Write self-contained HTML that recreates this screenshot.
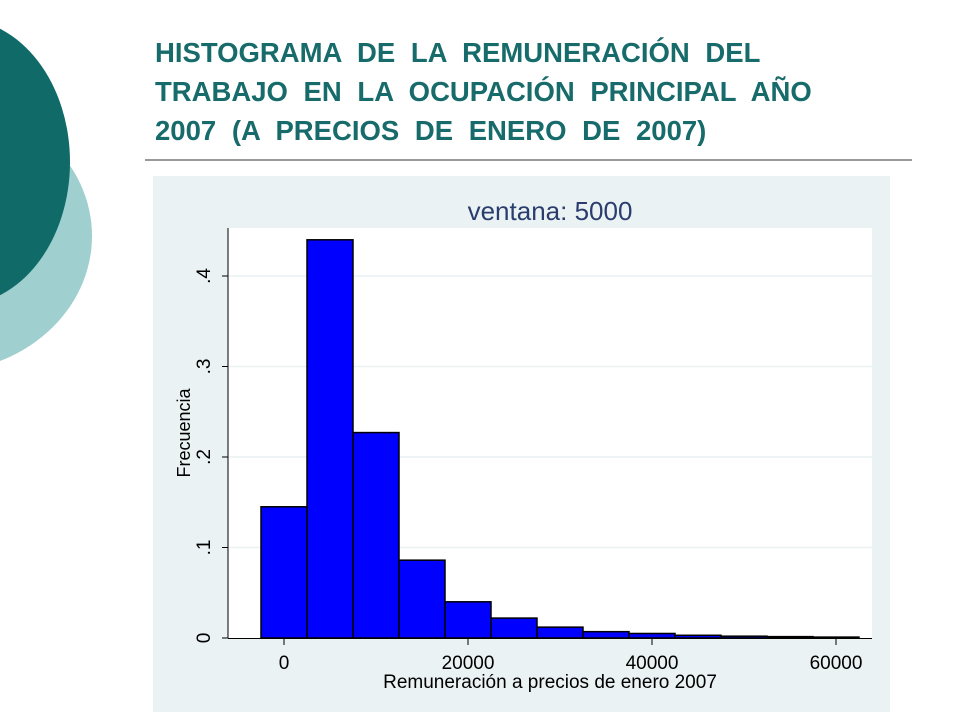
<!DOCTYPE html>
<html><head><meta charset="utf-8"><style>
body{margin:0;width:960px;height:720px;background:#fff;overflow:hidden;position:relative;font-family:"Liberation Sans",sans-serif}
#title{position:absolute;left:155px;top:33px;font-weight:bold;font-size:27.5px;line-height:39px;color:#176b6a;word-spacing:8px;margin:0;white-space:nowrap}
</style></head><body>
<svg width="960" height="720" style="position:absolute;left:0;top:0">
<ellipse cx="-60" cy="236" rx="152" ry="136" fill="#9fcfcf"/>
<ellipse cx="-40" cy="162" rx="110" ry="143" fill="#0f6a68"/>
<line x1="145" y1="160" x2="912" y2="160" stroke="#333" stroke-width="1"/>
</svg>
<h1 id="title">HISTOGRAMA DE LA REMUNERACIÓN DEL<br>TRABAJO EN LA OCUPACIÓN PRINCIPAL AÑO<br>2007 (A PRECIOS DE ENERO DE 2007)</h1>
<svg id="chart" width="960" height="720" style="position:absolute;left:0;top:0"></svg>
<script>
const binStarts=[-2500,2500,7500,12500,17500,22500,27500,32500,37500,42500,47500,52500,57500];
const frequencies=[0.145,0.440,0.227,0.086,0.040,0.022,0.012,0.007,0.005,0.003,0.002,0.0015,0.001];
const binWidth=5000;
const xTicks=[0,20000,40000,60000];
const yTicks=[0,0.1,0.2,0.3,0.4];
const yTickLabels=["0",".1",".2",".3",".4"];
const NS="http://www.w3.org/2000/svg";
const svg=document.getElementById('chart');
const X=v=>284+(v/20000)*184;
const Y=v=>638-v*905;
function mk(t,a,p){const e=document.createElementNS(NS,t);for(const k in a)e.setAttribute(k,a[k]);(p||svg).appendChild(e);return e;}
const panel=mk('rect',{x:153,y:176,width:737,height:536,fill:'#eaf2f3'});


const plot=mk('rect',{x:228,y:228,width:644,height:410,fill:'#fff'});


const ttl=mk('text',{x:550,y:220,'text-anchor':'middle','font-size':26,fill:'#2a3d6e','font-family':'Liberation Sans, sans-serif'});
ttl.textContent='ventana: 5000';


yTicks.forEach((t,i)=>{
  if(t>0){const g=mk('line',{x1:229,x2:872,y1:Y(t),y2:Y(t),stroke:'#eaf2f3','stroke-width':1.5});
  
  }
  const tk=mk('line',{x1:222,x2:228,y1:Y(t),y2:Y(t),stroke:'#000'});
  
  
  const lb=mk('text',{x:0,y:0,transform:`translate(210,${Y(t)}) rotate(-90)`,'text-anchor':'middle','font-size':19,fill:'#000'});
  lb.textContent=yTickLabels[i];
  
  
});
binStarts.forEach((s,i)=>{
  const b=mk('rect',{x:X(s),y:Y(frequencies[i]),width:X(s+binWidth)-X(s),height:Y(0)-Y(frequencies[i]),fill:'#0000ff',stroke:'#000','stroke-width':1.5});
  
  
});
const ya=mk('line',{x1:228,x2:228,y1:228,y2:638,stroke:'#000'});


const xa=mk('line',{x1:228,x2:872,y1:638.5,y2:638.5,stroke:'#000'});


xTicks.forEach(t=>{
  const tk=mk('line',{x1:X(t),x2:X(t),y1:638,y2:645,stroke:'#000'});
  
  
  const lb=mk('text',{x:X(t),y:669,'text-anchor':'middle','font-size':19,fill:'#000'});
  lb.textContent=String(t);
  
  
});
const xt=mk('text',{x:550,y:688,'text-anchor':'middle','font-size':19,fill:'#000'});
xt.textContent='Remuneración a precios de enero 2007';


const yt=mk('text',{x:0,y:0,transform:'translate(190,433) rotate(-90)','text-anchor':'middle','font-size':18,fill:'#000'});
yt.textContent='Frecuencia';


</script>
</body></html>
